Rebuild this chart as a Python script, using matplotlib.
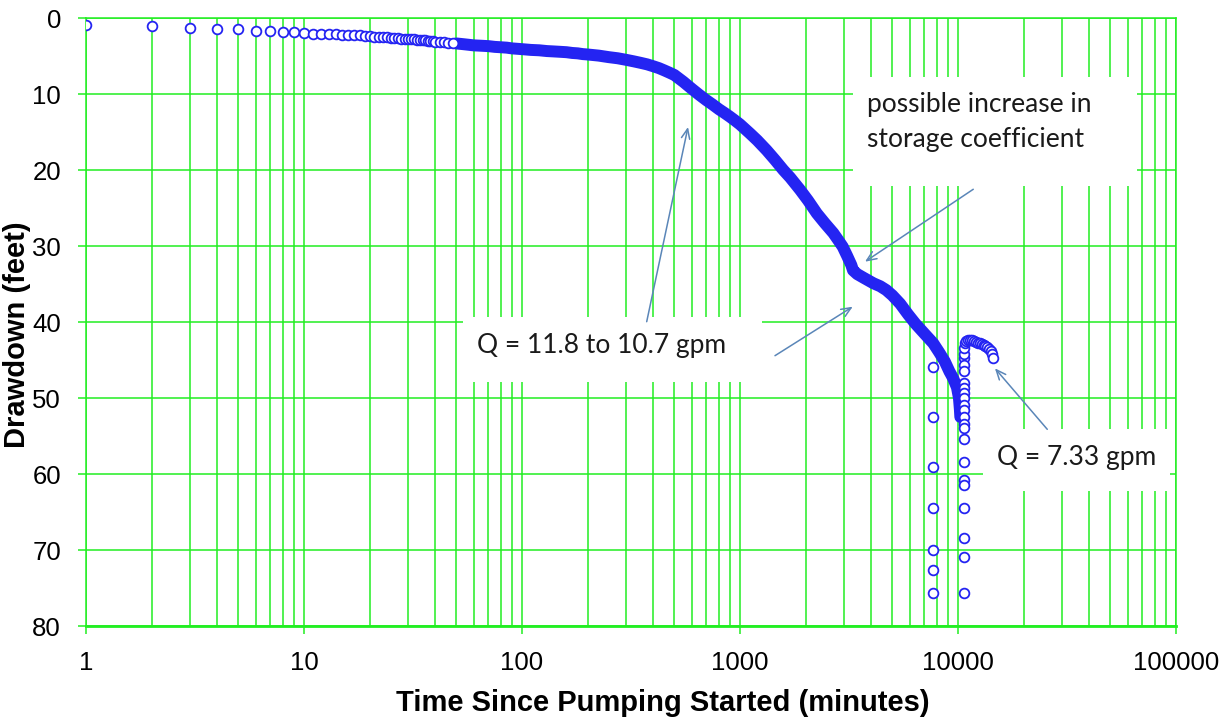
import numpy as np
import matplotlib.pyplot as plt
from matplotlib.patches import Rectangle
from matplotlib.ticker import LogLocator, NullFormatter

# main drawdown record (minutes, feet)
time_min = [1, 2, 3, 4, 5, 6, 7, 8, 9, 10,
            11, 12, 13, 14, 15, 16, 17, 18, 19, 20,
            21, 22, 23, 24, 25, 26, 27, 28, 29, 30,
            31, 32, 33, 34, 35, 36, 37, 38, 39, 40,
            42, 44, 46, 48, 50, 52, 54, 56, 58, 60,
            65, 70, 75, 80, 85, 90, 95, 100,
            110, 120, 130, 140, 150, 160, 170, 180, 190, 200,
            225, 250, 275, 300, 325, 350, 375, 400, 425, 450, 475, 500,
            550, 600, 650, 700, 750, 800, 850, 900, 950, 1000,
            1112, 1200, 1325, 1450, 1580, 1700, 1885, 2050, 2250, 2450,
            2680, 2850, 2960, 3100, 3240, 3300, 3450, 3700, 4090, 4400,
            4690, 5000, 5430, 5900, 6370, 7000, 7700, 8200, 8700, 9130,
            9500, 9890, 10100, 10200, 10250]
drawdown_ft = [0.9, 1.1, 1.3, 1.5, 1.5, 1.7, 1.7, 1.8, 1.8, 2.0,
               2.05, 2.1, 2.1, 2.15, 2.2, 2.25, 2.3, 2.3, 2.35, 2.4,
               2.45, 2.5, 2.5, 2.55, 2.6, 2.6, 2.65, 2.7, 2.7, 2.75,
               2.8, 2.8, 2.85, 2.9, 2.9, 2.95, 3.0, 3.0, 3.05, 3.1,
               3.15, 3.2, 3.25, 3.3, 3.35, 3.4, 3.45, 3.5, 3.55, 3.6,
               3.65, 3.7, 3.8, 3.85, 3.9, 4.0, 4.05, 4.1,
               4.2, 4.25, 4.35, 4.4, 4.45, 4.5, 4.6, 4.65, 4.75, 4.8,
               4.95, 5.15, 5.3, 5.5, 5.7, 5.9, 6.1, 6.35, 6.6, 6.9, 7.2, 7.5,
               8.4, 9.3, 10.1, 10.8, 11.4, 12.0, 12.5, 13.0, 13.5, 14.0,
               15.2, 16.1, 17.4, 18.7, 20.0, 21.0, 22.6, 24.0, 25.7, 27.0,
               28.3, 29.4, 30.1, 31.3, 32.5, 33.2, 33.7, 34.2, 34.9, 35.3,
               35.8, 36.5, 37.6, 39.0, 40.2, 41.5, 42.8, 44.0, 45.2, 46.5,
               47.4, 48.6, 50.0, 51.5, 52.5]

# off-curve readings around the pump changes
spike_time = [7680, 7680, 7680, 7680, 7680, 7680, 7680,
              10660, 10660, 10660, 10660, 10660, 10660, 10660, 10660, 10660, 10660,
              10660, 10660, 10660, 10660, 10660, 10660, 10660, 10660, 10660, 10660]
spike_dd = [45.9, 52.5, 59.1, 64.5, 70.0, 72.6, 75.7,
            44.8, 45.7, 46.5, 48.0, 48.7, 49.4, 50.0, 50.9, 51.6, 52.5,
            53.4, 54.0, 55.4, 58.4, 60.8, 61.4, 64.5, 68.4, 70.9, 75.7]

# reduced rate (7.33 gpm)
rec_time = [10700, 10700, 10760, 10900, 11100, 11350, 11600, 11850, 12100, 12350,
            12600, 12850, 13100, 13350, 13600, 13850, 14100, 14300, 14500]
rec_dd = [44.2, 43.4, 42.8, 42.5, 42.4, 42.4, 42.4, 42.5, 42.6, 42.7,
          42.8, 42.9, 43.0, 43.2, 43.3, 43.5, 43.8, 44.2, 44.8]

x_ticks = [1, 10, 100, 1000, 10000, 100000]
x_labels = ['1', '10', '100', '1000', '10000', '100000']
y_ticks = [0, 10, 20, 30, 40, 50, 60, 70, 80]

green = '#22EE22'
blue = '#2424F2'
arrow_c = '#5A86B8'

plt.rcParams['font.family'] = ['Liberation Sans', 'DejaVu Sans']

fig = plt.figure(figsize=(12.26, 7.17), dpi=100)
ax = fig.add_axes([86 / 1226, 1 - 626 / 717, 1090 / 1226, 608 / 717])

t = np.array(time_min)
d = np.array(drawdown_ft)
dense = t >= 50
# late readings are so close together that the circles merge into a band
ax.plot(t[dense], d[dense], '-', color=blue, lw=8.6, solid_capstyle='round', zorder=3)
circ = dict(ls='none', marker='o', ms=7, mfc='white', mec=blue, mew=1.3, zorder=4)
ax.plot(t[~dense], d[~dense], **circ)
ax.plot(spike_time, spike_dd, **circ)
ax.plot(rec_time, rec_dd, **circ)

ax.set_xscale('log')
ax.set_xlim(1, 100000)
ax.set_ylim(80, 0)
ax.set_xticks(x_ticks, x_labels)
ax.xaxis.set_minor_locator(LogLocator(base=10, subs=np.arange(2, 10)))
ax.xaxis.set_minor_formatter(NullFormatter())
ax.set_yticks(y_ticks)

ax.set_axisbelow(True)
ax.grid(True, which='both', axis='x', color=green, lw=1.1)
ax.grid(True, which='major', axis='y', color=green, lw=1.1)
ax.tick_params(axis='x', which='major', length=6, width=1.1, color=green, pad=12, labelsize=18.5)
ax.tick_params(axis='x', which='minor', length=0)
ax.tick_params(axis='y', length=6, width=1.1, color=green, pad=12, labelsize=18.5)
for s in ['top', 'right', 'left']:
    ax.spines[s].set_color(green)
    ax.spines[s].set_linewidth(1.1)
ax.spines['bottom'].set_color(green)
ax.spines['bottom'].set_linewidth(2)

fig.text(663 / 1226, 1 - 711 / 717, 'Time Since Pumping Started (minutes)',
         ha='center', va='baseline', fontsize=21, fontweight='bold')
fig.text(17 / 1226, 1 - 335 / 717, 'Drawdown (feet)', rotation=90,
         ha='center', va='center', fontsize=21, fontweight='bold')

# white text boxes
boxes = [(0.7034, 0.7237, 0.2606, 0.1793),
         (0.3456, 0.4013, 0.2743, 0.1069),
         (0.8227, 0.2220, 0.1718, 0.1015)]
for bx, by, bw, bh in boxes:
    ax.add_patch(Rectangle((bx, by), bw, bh, transform=ax.transAxes,
                           facecolor='white', edgecolor='none', zorder=1))

note = dict(transform=ax.transAxes, fontsize=19, family=['Lato', 'DejaVu Sans'],
            color='#1a1a1a', va='baseline', ha='left', zorder=5)
ax.text(0.7162, 0.8459, 'possible increase in', **note)
ax.text(0.7162, 0.7883, 'storage coefficient', **note)
ax.text(0.3584, 0.4495, 'Q = 11.8 to 10.7 gpm', **note)
ax.text(0.8358, 0.2648, 'Q = 7.33 gpm', **note)

arrows = [((0.5144, 0.5005), (0.5523, 0.8207)),
          ((0.8140, 0.7183), (0.7147, 0.5992)),
          ((0.6321, 0.4446), (0.7034, 0.5252)),
          ((0.8819, 0.3235), (0.8339, 0.4238))]
for tail, head in arrows:
    ax.annotate('', xy=head, xytext=tail, xycoords='axes fraction', textcoords='axes fraction',
                arrowprops=dict(arrowstyle='->,head_length=0.7,head_width=0.3', color=arrow_c,
                                lw=1.1, shrinkA=0, shrinkB=0), zorder=5)

fig.savefig('out.png', dpi=100)
